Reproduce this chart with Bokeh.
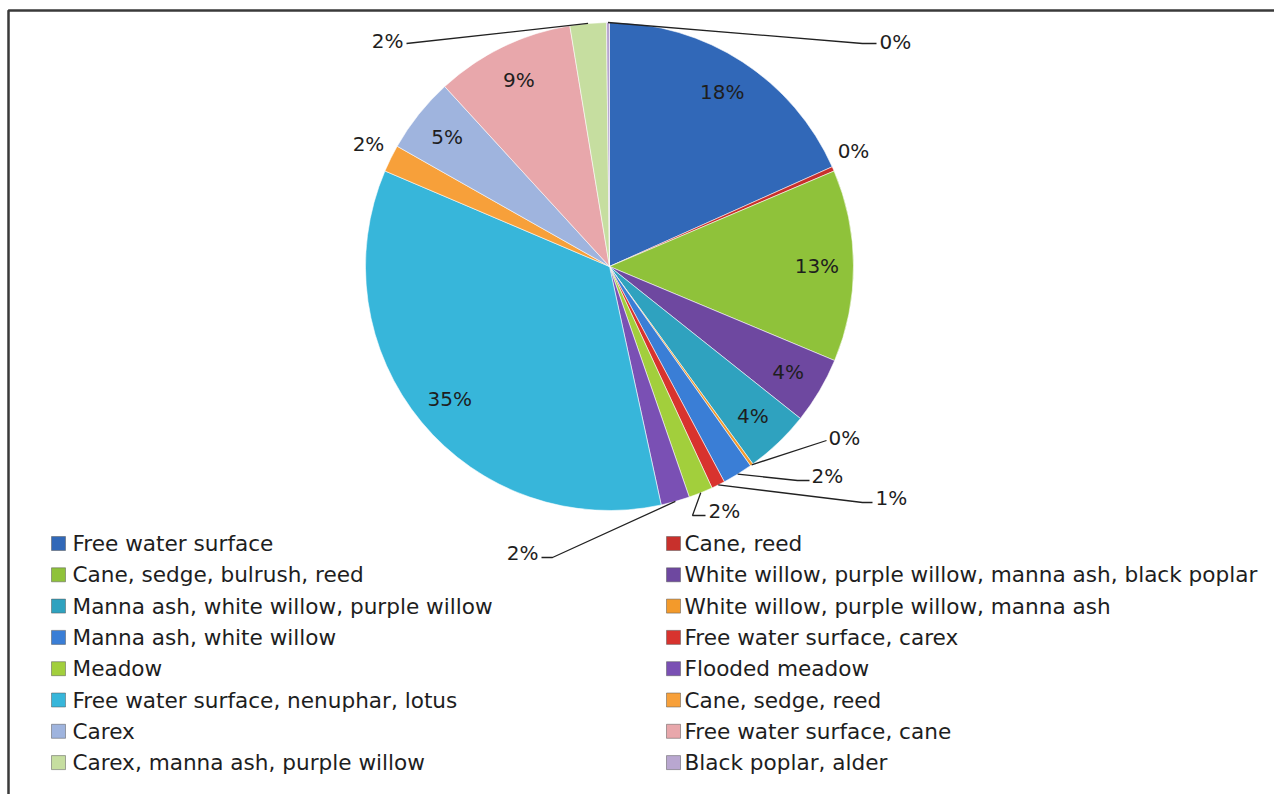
import math
from bokeh.plotting import figure
from bokeh.models import ColumnDataSource
from bokeh.core.properties import value
from bokeh.embed import file_html
from bokeh.resources import INLINE

# ---------------- data ----------------
categories = [
    "Free water surface",
    "Cane, reed",
    "Cane, sedge, bulrush, reed",
    "White willow, purple willow, manna ash, black poplar",
    "Manna ash, white willow, purple willow",
    "White willow, purple willow, manna ash",
    "Manna ash, white willow",
    "Free water surface, carex",
    "Meadow",
    "Flooded meadow",
    "Free water surface, nenuphar, lotus",
    "Cane, sedge, reed",
    "Carex",
    "Free water surface, cane",
    "Carex, manna ash, purple willow",
    "Black poplar, alder",
]
shares = [18.3, 0.3, 12.7, 4.4, 4.3, 0.2, 2.0, 0.9, 1.6, 1.9,
          34.8, 1.8, 5.0, 9.2, 2.4, 0.2]
colors = [
    "#3168B8", "#C8302C", "#8FC23A", "#6E48A0",
    "#2FA2BF", "#F39A2B", "#3A7ED6", "#D8332E",
    "#A2CF3C", "#7A50B4", "#37B6DA", "#F7A03A",
    "#9FB4DE", "#E8A7AB", "#C6DEA0", "#B9A7D0",
]

# ---------------- layout ----------------
W, H = 1274, 794
CX, CY, R = 609, 266, 244          # pie centre / radius in screen pixels
FONT = value("DejaVu Sans")
TXT = "#1e1e1e"


def Y(y):
    return H - y


inside = {0, 2, 3, 4, 10, 12, 13}
# outside labels: slice index -> (label x, label y, align, leader path points)
outside = {
    1: (853, 150, "center", None),
    5: (828, 437, "left", [(826, 440)]),
    6: (811, 475, "left", [(797, 480), (809, 480)]),
    7: (875, 497, "left", [(862, 502), (872, 502)]),
    8: (708, 510, "left", [(692, 515), (705, 515)]),
    9: (538, 552, "right", [(552, 557), (541, 557)]),
    11: (368, 143, "center", None),
    14: (403, 40, "right", [(406, 43)]),
    15: (879, 41, "left", [(862, 43), (876, 43)]),
}

p = figure(width=W, height=H, x_range=(0, W), y_range=(0, H),
           output_backend="svg", toolbar_location=None,
           x_axis_type=None, y_axis_type=None, min_border=0)
p.outline_line_color = None
p.background_fill_color = "white"
p.border_fill_color = "white"

n = len(shares)
total = float(sum(shares))
cum = [0.0]
for s in shares:
    cum.append(cum[-1] + s / total)

starts = [math.pi / 2 - 2 * math.pi * cum[i + 1] for i in range(n)]
ends = [math.pi / 2 - 2 * math.pi * cum[i] for i in range(n)]
src = ColumnDataSource(dict(x=[CX] * n, y=[Y(CY)] * n, start=starts, end=ends,
                            color=colors, name=categories))
p.wedge(x="x", y="y", radius=R, start_angle="start", end_angle="end",
        direction="anticlock", fill_color="color", line_color="white",
        line_alpha=0.55, line_width=1, source=src)

labels = [f"{s / total * 100:.0f}%" for s in shares]


def rim(i, f=1.0):
    th = 2 * math.pi * (cum[i] + cum[i + 1]) / 2
    return CX + f * R * math.sin(th), CY - f * R * math.cos(th)


# inside labels
ix, iy, it = [], [], []
for i in sorted(inside):
    x, y = rim(i, 0.85)
    ix.append(x)
    iy.append(Y(y))
    it.append(labels[i])
p.text(x=ix, y=iy, text=it, text_font=FONT, text_font_size="20px",
       text_align="center", text_baseline="middle", text_color=TXT)

# outside labels with leader lines
for i, (lx, ly, al, path) in outside.items():
    if path:
        pts = [rim(i, 1.0)] + path
        p.line([q[0] for q in pts], [Y(q[1]) for q in pts],
               line_color="#222222", line_width=1.3)
    p.text(x=[lx], y=[Y(ly)], text=[labels[i]], text_font=FONT,
           text_font_size="20px", text_align=al, text_baseline="middle",
           text_color=TXT)

# legend (two columns, row-major order)
mx, my, mc, tx, ty, tt = [], [], [], [], [], []
for k, name in enumerate(categories):
    col, row = k % 2, k // 2
    yy = 543 + 31.3 * row
    mx.append([58, 673][col])
    my.append(Y(yy))
    mc.append(colors[k])
    tx.append([72, 684][col])
    ty.append(Y(yy))
    tt.append(name)
p.rect(x=mx, y=my, width=14, height=14, fill_color=mc, line_color="#555555",
       line_alpha=0.5)
p.text(x=tx, y=ty, text=tt, text_font=FONT, text_font_size="21.6px",
       text_align="left", text_baseline="middle", text_color=TXT)

# chart frame (top and left edges visible in the reference)
p.line([8, 8, W], [0, Y(10), Y(10)], line_color="#3a3a3a", line_width=2.5)

open("out.html", "w").write(file_html(p, INLINE))
